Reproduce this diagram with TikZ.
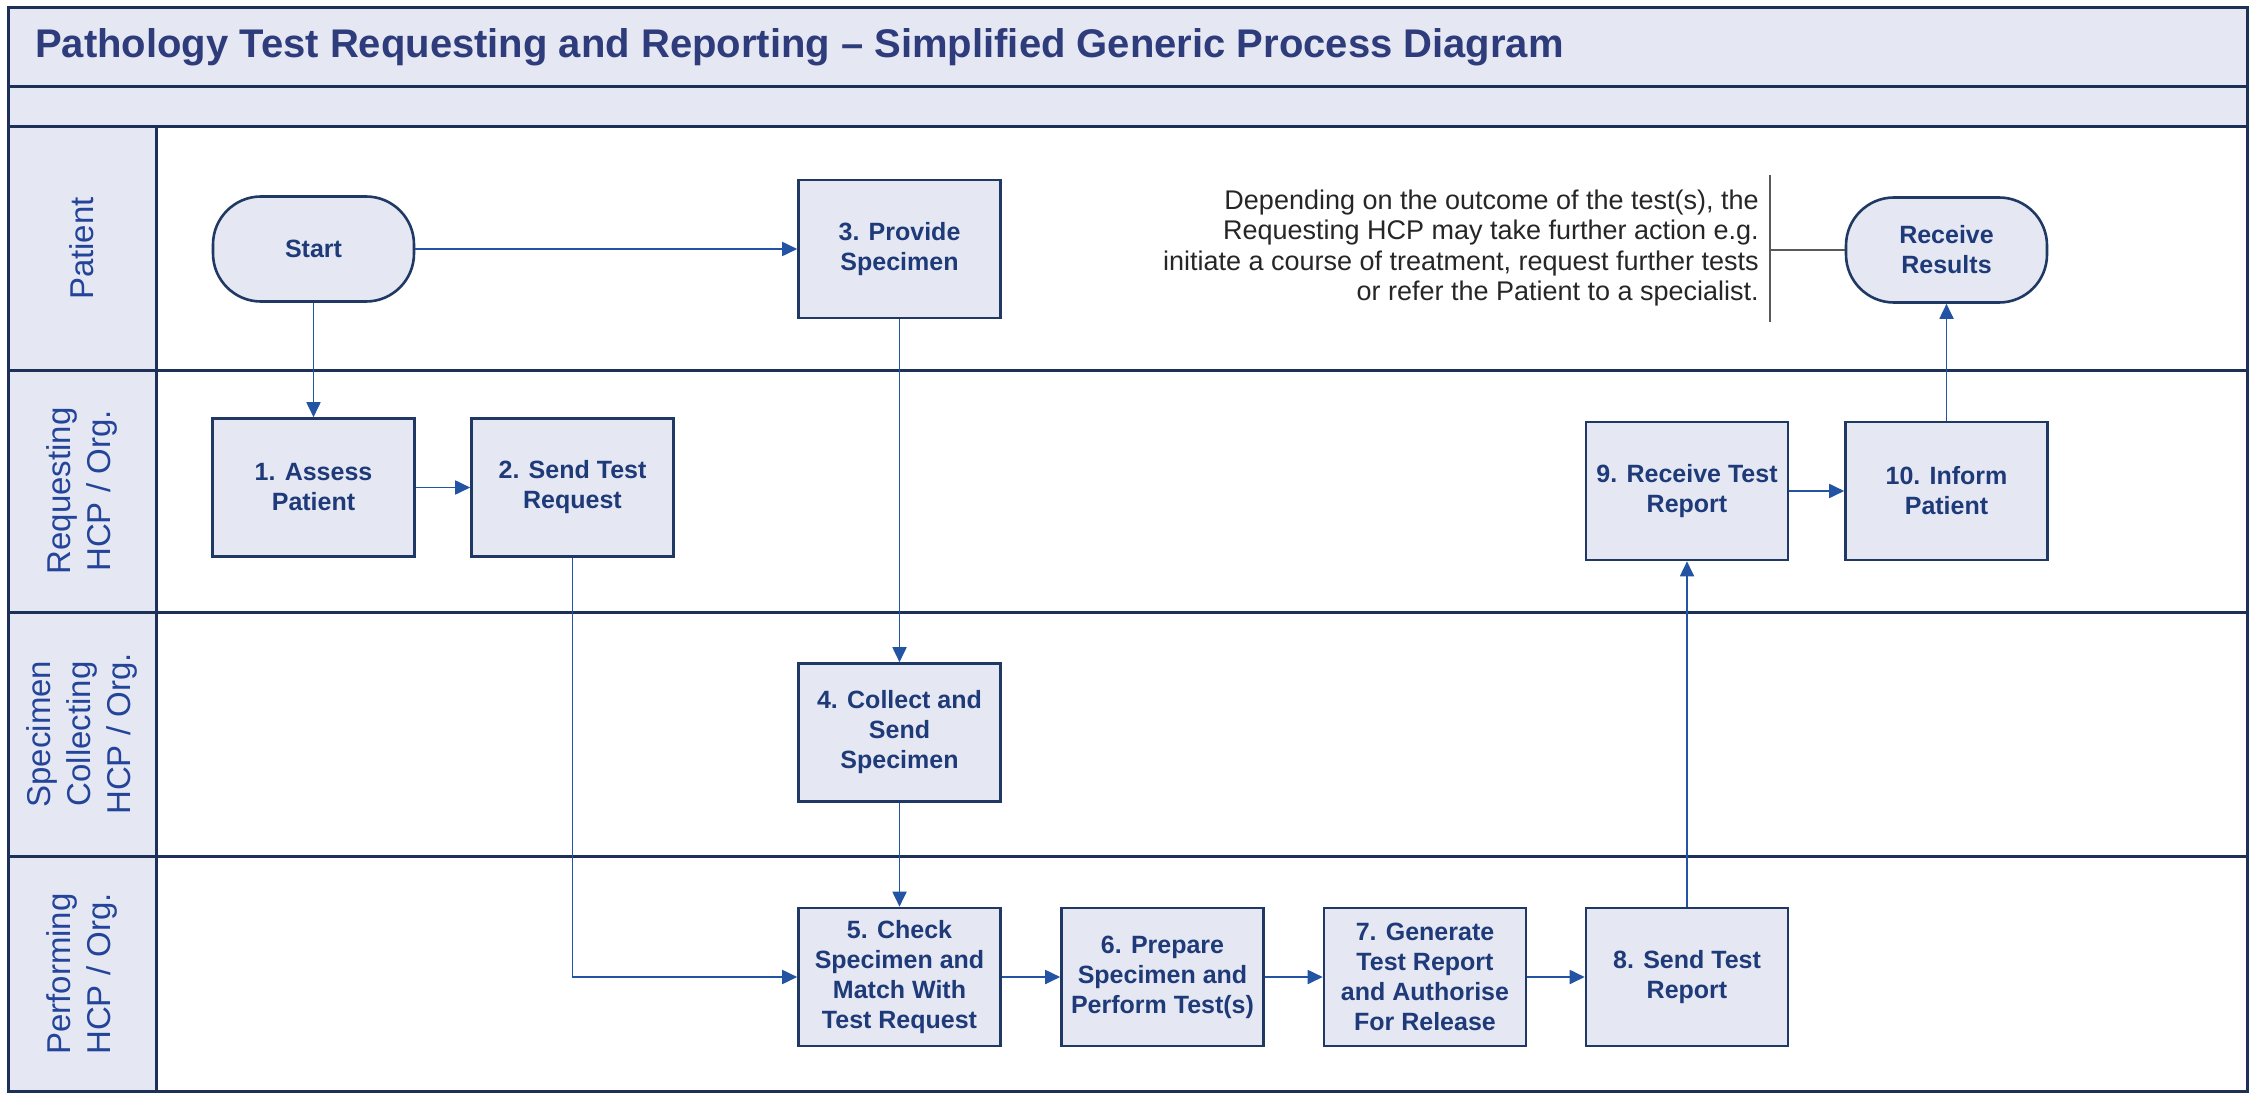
\documentclass[tikz,border=0pt]{standalone}
\usepackage{fontspec}
\setmainfont{Liberation Sans}
\usetikzlibrary{arrows.meta}
\definecolor{navy}{HTML}{1D3158}
\definecolor{boxnavy}{HTML}{1F3864}
\definecolor{boxfill}{HTML}{E5E8F3}
\definecolor{boxtext}{HTML}{1F3A78}
\definecolor{arrowblue}{HTML}{2254A3}
\definecolor{titletext}{HTML}{2E3C7C}
\definecolor{lanetext}{HTML}{24449A}
\definecolor{notetext}{HTML}{262626}
\tikzset{
  lanebg/.style={fill=boxfill, draw=navy, line width=3pt},
  laneline/.style={draw=navy, line width=3pt},
  lanelabel/.style={rotate=90, align=center, text=lanetext, font=\fontsize{33}{40}\selectfont},
  stepbox/.style={draw=boxnavy, fill=boxfill, line width=2.6pt, minimum width=202pt, minimum height=138pt,
    inner sep=0pt, align=center, text=boxtext, font=\fontsize{25}{30}\selectfont\bfseries},
  terminal/.style={draw=boxnavy, fill=boxfill, line width=2.6pt, minimum width=201pt, minimum height=105pt,
    rounded corners=48pt, inner sep=0pt, align=center, text=boxtext, font=\fontsize{25}{30}\selectfont\bfseries},
  flow/.style={draw=arrowblue, line width=1.8pt, -{Triangle[length=15pt,width=14pt]}},
  noteline/.style={draw=gray!70!black, line width=1.4pt},
}
\begin{document}
\begin{tikzpicture}[x=1pt,y=-1pt]
\useasboundingbox (0,0) rectangle (2254,1094);
\fill[white] (0,0) rectangle (2254,1094);
% frame and bands
\path[lanebg] (8,8) rectangle (2247,87);
\path[lanebg] (8,87) rectangle (2247,127);
\path[lanebg] (8,127) rectangle (156,1091);
\draw[laneline] (8,127) rectangle (2247,1091);
\draw[laneline] (8,370) -- (2247,370);
\draw[laneline] (8,612) -- (2247,612);
\draw[laneline] (8,856) -- (2247,856);
\draw[laneline] (156,127) -- (156,1091);
% title
\node[anchor=west, text=titletext, font=\fontsize{40}{44}\selectfont\bfseries, inner sep=0pt] (title) at (35,47)
  {Pathology Test Requesting and Reporting – Simplified Generic Process Diagram};
% lane labels
\node[lanelabel] (lpat) at (82,248.5) {Patient};
\node[lanelabel] (lreq) at (82,491) {Requesting\\HCP / Org.};
\node[lanelabel] (lspe) at (82,734) {Specimen\\Collecting\\HCP / Org.};
\node[lanelabel] (lper) at (82,974) {Performing\\HCP / Org.};
% nodes
\node[terminal] (start) at (313.5,249) {Start};
\node[stepbox] (n3) at (899.5,249) {3. Provide\\Specimen};
\node[stepbox] (n1) at (313.5,487.5) {1. Assess\\Patient};
\node[stepbox] (n2) at (572.5,487.5) {2. Send Test\\Request};
\node[stepbox] (n4) at (899.5,732.5) {4. Collect and\\Send\\Specimen};
\node[stepbox] (n5) at (899.5,977) {5. Check\\Specimen and\\Match With\\Test Request};
\node[stepbox] (n6) at (1162.5,977) {6. Prepare\\Specimen and\\Perform Test(s)};
\node[stepbox] (n7) at (1425,977) {7. Generate\\Test Report\\and Authorise\\For Release};
\node[stepbox] (n8) at (1687,977) {8. Send Test\\Report};
\node[stepbox] (n9) at (1687,491) {9. Receive Test\\Report};
\node[stepbox] (n10) at (1946.5,491) {10. Inform\\Patient};
\node[terminal] (res) at (1946.5,250) {Receive\\Results};
% annotation
\node[anchor=east, align=right, text=notetext, font=\fontsize{27}{30.5}\selectfont, inner sep=0pt] (note) at (1759,248)
  {Depending on the outcome of the test(s), the\\Requesting HCP may take further action e.g.\\initiate a course of treatment, request further tests\\or refer the Patient to a specialist.};
\coordinate (bt) at (1770,175);
\coordinate (bb) at (1770,322);
\coordinate (bm) at (1770,250);
\draw[noteline] (bt) -- (bb);
\draw[noteline] (bm) -- (res.west);
% connectors
\draw[flow] (start.south) -- (n1.north);
\draw[flow] (start.east) -- (n3.west);
\draw[flow] (n1.east) -- (n2.west);
\draw[flow] (n2.south) |- (n5.west);
\draw[flow] (n3.south) -- (n4.north);
\draw[flow] (n4.south) -- (n5.north);
\draw[flow] (n5.east) -- (n6.west);
\draw[flow] (n6.east) -- (n7.west);
\draw[flow] (n7.east) -- (n8.west);
\draw[flow] (n8.north) -- (n9.south);
\draw[flow] (n9.east) -- (n10.west);
\draw[flow] (n10.north) -- (res.south);
\end{tikzpicture}
\end{document}
